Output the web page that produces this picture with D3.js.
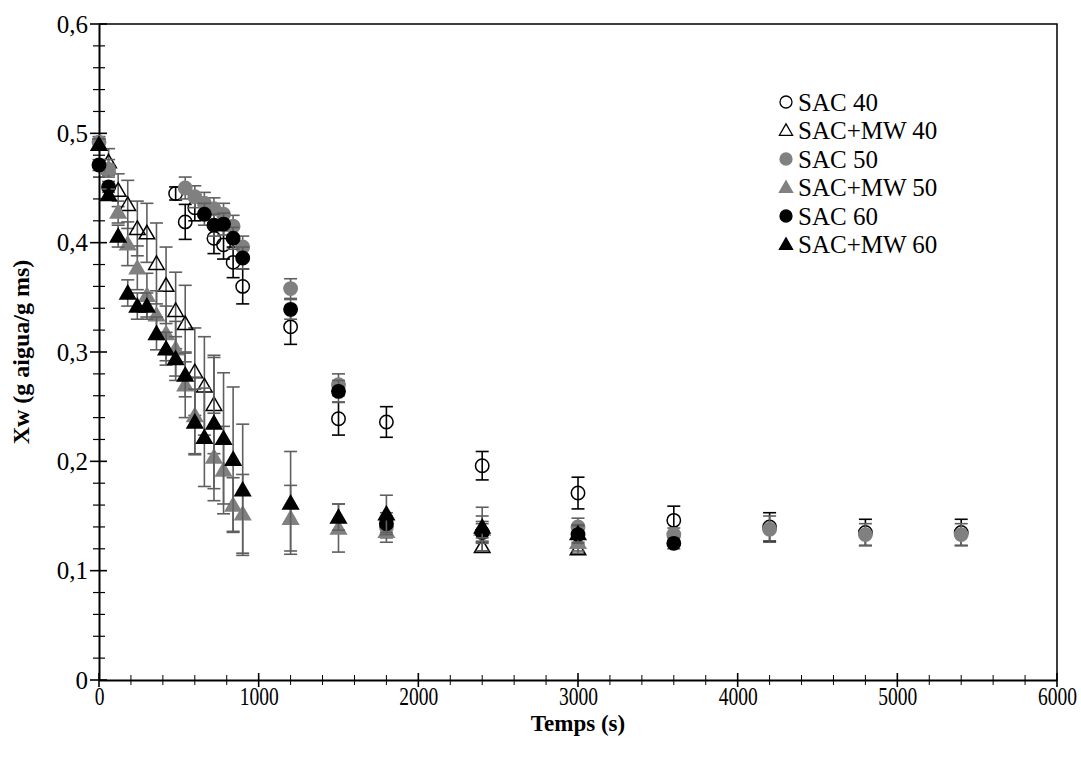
<!DOCTYPE html>
<html>
  <head>
    <script src="https://d3js.org/d3.v7.min.js"></script>
    <meta charset="utf-8">
    <title>Xw vs Temps</title>
    <style>
      body { margin: 0; background: #fff; }
      svg { display: block; }
      svg text { font-family: "Liberation Serif", "Times New Roman", serif !important; fill: #000; }
    </style>
  </head>
  <body>
    <script>
      // series data (time in s, Xw in g aigua/g ms, error = +/-)
      const sac40Time = [480, 540, 600, 720, 780, 840, 900, 1200, 1500, 1800, 2400, 3000, 3600, 4200, 4800, 5400];
      const sac40Xw   = [0.445, 0.419, 0.432, 0.404, 0.398, 0.382, 0.360, 0.323, 0.239, 0.236, 0.196, 0.171, 0.146, 0.140, 0.135, 0.135];
      const sac40Err  = [0.006, 0.016, 0.012, 0.014, 0.013, 0.014, 0.016, 0.016, 0.015, 0.014, 0.013, 0.0145, 0.013, 0.013, 0.012, 0.012];

      const mw40Time = [60, 120, 180, 240, 300, 360, 420, 480, 540, 600, 660, 720, 2400, 3000];
      const mw40Xw   = [0.474, 0.448, 0.435, 0.413, 0.409, 0.381, 0.361, 0.338, 0.326, 0.282, 0.269, 0.252, 0.122, 0.120];
      const mw40Err  = [0.012, 0.015, 0.022, 0.025, 0.027, 0.037, 0.035, 0.035, 0.035, 0.040, 0.045, 0.045, 0.004, 0.004];

      const sac50Time = [0, 60, 540, 600, 660, 720, 780, 840, 900, 1200, 1500, 1800, 2400, 3000, 3600, 4200, 4800, 5400];
      const sac50Xw   = [0.492, 0.467, 0.450, 0.442, 0.436, 0.431, 0.426, 0.415, 0.396, 0.358, 0.270, 0.140, 0.135, 0.140, 0.133, 0.138, 0.133, 0.133];
      const sac50Err  = [0.005, 0.005, 0.010, 0.010, 0.010, 0.010, 0.010, 0.010, 0.010, 0.009, 0.010, 0.010, 0.010, 0.008, 0.006, 0.012, 0.010, 0.010];

      const mw50Time = [0, 60, 120, 180, 240, 300, 360, 420, 480, 540, 600, 720, 780, 840, 900, 1200, 1500, 1800, 2400, 3000];
      const mw50Xw   = [0.490, 0.468, 0.428, 0.399, 0.377, 0.352, 0.334, 0.317, 0.303, 0.270, 0.242, 0.204, 0.192, 0.160, 0.152, 0.148, 0.139, 0.136, 0.138, 0.126];
      const mw50Err  = [0.005, 0.008, 0.010, 0.020, 0.020, 0.020, 0.022, 0.025, 0.025, 0.030, 0.035, 0.040, 0.040, 0.025, 0.036, 0.030, 0.022, 0.010, 0.020, 0.008];

      const sac60Time = [0, 60, 660, 720, 780, 840, 900, 1200, 1500, 1800, 2400, 3000, 3600];
      const sac60Xw   = [0.471, 0.451, 0.426, 0.416, 0.417, 0.404, 0.386, 0.339, 0.264, 0.143, 0.135, 0.133, 0.125];
      const sac60Err  = [0.005, 0.005, 0.010, 0.010, 0.010, 0.010, 0.010, 0.009, 0.010, 0.010, 0.008, 0.008, 0.005];

      const mw60Time = [0, 60, 120, 180, 240, 300, 360, 420, 480, 540, 600, 660, 720, 780, 840, 900, 1200, 1500, 1800, 2400, 3000];
      const mw60Xw   = [0.490, 0.444, 0.406, 0.354, 0.342, 0.342, 0.317, 0.303, 0.294, 0.279, 0.236, 0.222, 0.235, 0.221, 0.202, 0.174, 0.162, 0.149, 0.152, 0.140, 0.134];
      const mw60Err  = [0.005, 0.005, 0.010, 0.012, 0.012, 0.012, 0.015, 0.015, 0.020, 0.020, 0.030, 0.045, 0.060, 0.060, 0.066, 0.060, 0.047, 0.012, 0.017, 0.010, 0.008];

      const seriesNames = ["SAC 40", "SAC+MW 40", "SAC 50", "SAC+MW 50", "SAC 60", "SAC+MW 60"];
      const xTicks = [0, 1000, 2000, 3000, 4000, 5000, 6000];
      const yTicks = [0, 0.1, 0.2, 0.3, 0.4, 0.5, 0.6];

      const serif = "'Liberation Serif', 'Times New Roman', serif";

      // build the series table
      const series = [
        { name: seriesNames[0], t: sac40Time, v: sac40Xw, e: sac40Err, shape: "circle", fill: "none", stroke: "#000", bar: "#000" },
        { name: seriesNames[1], t: mw40Time, v: mw40Xw, e: mw40Err, shape: "triangle", fill: "none", stroke: "#000", bar: "#5f5f5f" },
        { name: seriesNames[2], t: sac50Time, v: sac50Xw, e: sac50Err, shape: "circle", fill: "#808080", stroke: "#808080", bar: "#5f5f5f" },
        { name: seriesNames[3], t: mw50Time, v: mw50Xw, e: mw50Err, shape: "triangle", fill: "#808080", stroke: "#808080", bar: "#5f5f5f" },
        { name: seriesNames[4], t: sac60Time, v: sac60Xw, e: sac60Err, shape: "circle", fill: "#000", stroke: "#000", bar: "#5f5f5f" },
        { name: seriesNames[5], t: mw60Time, v: mw60Xw, e: mw60Err, shape: "triangle", fill: "#000", stroke: "#000", bar: "#5f5f5f" }
      ];

      const width = 1081, height = 765;
      const margin = { left: 99, right: 24, top: 24, bottom: 85 };

      const svg = d3.select("body")
        .append("svg")
        .attr("width", width)
        .attr("height", height)
        .attr("font-family", serif);

      const x = d3.scaleLinear().domain([0, 6000]).range([margin.left, width - margin.right]);
      const y = d3.scaleLinear().domain([0, 0.6]).range([height - margin.bottom, margin.top]);

      const x0 = x(0), x1 = x(6000), y0 = y(0), y1 = y(0.6);

      // frame (top and right)
      svg.append("path")
        .attr("d", `M${x0},${y1}H${x1}V${y0}`)
        .attr("fill", "none")
        .attr("stroke", "#000")
        .attr("stroke-width", 1.5);

      // x axis with crossing ticks
      const xMinor = d3.range(0, 6001, 200);
      svg.append("g").selectAll("line")
        .data(xMinor)
        .enter()
        .append("line")
        .attr("x1", d => x(d)).attr("x2", d => x(d))
        .attr("y1", d => d % 1000 === 0 ? y0 - 7 : y0 - 5)
        .attr("y2", d => d % 1000 === 0 ? y0 + 7 : y0 + 5)
        .attr("stroke", "#000")
        .attr("stroke-width", d => d % 1000 === 0 ? 1.6 : 1);

      const xAxis = d3.axisBottom(x).tickValues(xTicks).tickSize(0).tickPadding(7).tickFormat(d3.format("d"));
      const gx = svg.append("g").attr("transform", `translate(0,${y0})`).call(xAxis);
      gx.attr("font-family", serif);
      gx.select(".domain").attr("stroke", "#000").attr("stroke-width", 2);
      // the x labels in the source are narrow, squeeze them a bit
      gx.selectAll("text")
        .attr("font-size", 25)
        .attr("transform", "scale(0.78,1)");

      // y axis with crossing ticks
      const yMinor = d3.range(0, 31).map(i => i * 0.02);
      svg.append("g").selectAll("line")
        .data(yMinor)
        .enter()
        .append("line")
        .attr("y1", d => y(d)).attr("y2", d => y(d))
        .attr("x1", (d, i) => i % 5 === 0 ? x0 - 9 : x0 - 6)
        .attr("x2", (d, i) => i % 5 === 0 ? x0 + 8 : x0 + 6)
        .attr("stroke", "#000")
        .attr("stroke-width", (d, i) => i % 5 === 0 ? 1.6 : 1.2);

      const yAxis = d3.axisLeft(y).tickValues(yTicks).tickSize(0).tickPadding(11)
        .tickFormat(d => d === 0 ? "0" : d3.format(".1f")(d).replace(".", ","));
      const gy = svg.append("g").attr("transform", `translate(${x0},0)`).call(yAxis);
      gy.attr("font-family", serif);
      gy.select(".domain").attr("stroke", "#000").attr("stroke-width", 2);
      gy.selectAll("text").attr("font-size", 25);

      // axis titles
      svg.append("text")
        .attr("x", (x0 + x1) / 2)
        .attr("y", 731)
        .attr("text-anchor", "middle")
        .attr("font-size", 23)
        .attr("font-weight", "bold")
        .text("Temps (s)");

      svg.append("text")
        .attr("transform", `translate(29,${(y0 + y1) / 2}) rotate(-90)`)
        .attr("text-anchor", "middle")
        .attr("font-size", 24)
        .attr("font-weight", "bold")
        .text("Xw (g aigua/g ms)");

      const triangle = d3.symbol().type(d3.symbolTriangle).size(105);
      const triangleSmall = d3.symbol().type(d3.symbolTriangle).size(75);
      const capW = 6.5;

      // series: error bars then markers
      series.forEach(s => {
        const pts = s.t.map((t, i) => ({ t: t, v: s.v[i], e: s.e[i] }));
        const g = svg.append("g");

        const eb = g.selectAll("g.err")
          .data(pts)
          .enter()
          .append("g")
          .attr("stroke", s.bar)
          .attr("stroke-width", 1.6);
        eb.append("line")
          .attr("x1", d => x(d.t)).attr("x2", d => x(d.t))
          .attr("y1", d => y(d.v - d.e)).attr("y2", d => y(d.v + d.e));
        eb.append("line")
          .attr("x1", d => x(d.t) - capW).attr("x2", d => x(d.t) + capW)
          .attr("y1", d => y(d.v + d.e)).attr("y2", d => y(d.v + d.e));
        eb.append("line")
          .attr("x1", d => x(d.t) - capW).attr("x2", d => x(d.t) + capW)
          .attr("y1", d => y(d.v - d.e)).attr("y2", d => y(d.v - d.e));

        if (s.shape === "circle") {
          g.selectAll("circle")
            .data(pts)
            .enter()
            .append("circle")
            .attr("cx", d => x(d.t))
            .attr("cy", d => y(d.v))
            .attr("r", 6.7)
            .attr("fill", s.fill)
            .attr("stroke", s.stroke)
            .attr("stroke-width", 1.5);
        } else {
          g.selectAll("path.mk")
            .data(pts)
            .enter()
            .append("path")
            .attr("class", "mk")
            .attr("d", triangle)
            .attr("transform", d => `translate(${x(d.t)},${y(d.v) + 1.5})`)
            .attr("fill", s.fill)
            .attr("stroke", s.stroke)
            .attr("stroke-width", 1.5);
        }
      });

      // legend
      const legend = svg.append("g").attr("transform", "translate(786,102)");
      const items = legend.selectAll("g")
        .data(series)
        .enter()
        .append("g")
        .attr("transform", (d, i) => `translate(0,${i * 28.5})`);

      items.each(function(d) {
        const it = d3.select(this);
        if (d.shape === "circle") {
          it.append("circle").attr("r", 6)
            .attr("fill", d.fill).attr("stroke", d.stroke).attr("stroke-width", 1.3);
        } else {
          it.append("path").attr("d", triangleSmall).attr("transform", "translate(0,1)")
            .attr("fill", d.fill).attr("stroke", d.stroke).attr("stroke-width", 1.3);
        }
      });

      items.append("text")
        .attr("x", 12)
        .attr("dy", "0.35em")
        .attr("font-size", 25)
        .attr("font-family", serif)
        .text(d => d.name);
    </script>
  </body>
</html>
